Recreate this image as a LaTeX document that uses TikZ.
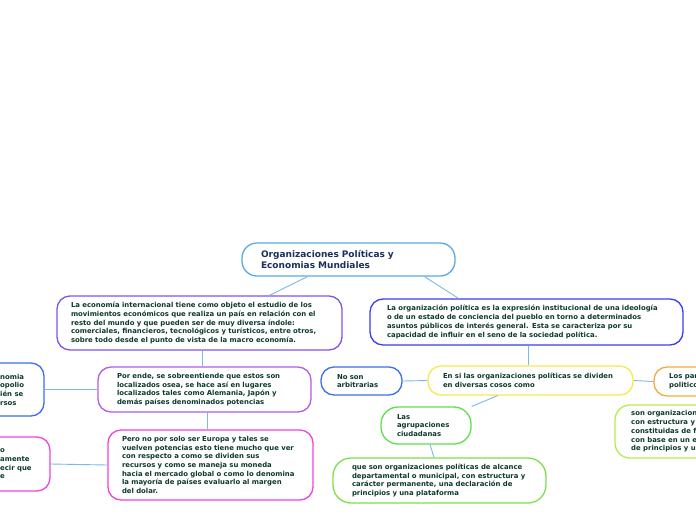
\documentclass[tikz,border=0pt]{standalone}
\usepackage{fontspec}
\setmainfont{DejaVu Sans}
\definecolor{txt}{HTML}{0D3A2A}
\definecolor{navy}{HTML}{1B2F5E}
\definecolor{conn}{HTML}{7AB8F0}
\definecolor{cRoot}{HTML}{5AA9E6}
\definecolor{cEcon}{HTML}{8052F0}
\definecolor{cOrg}{HTML}{3D3DF0}
\definecolor{cPor}{HTML}{B25CE8}
\definecolor{cMag}{HTML}{EE44DD}
\definecolor{cBlue}{HTML}{3A6FF0}
\definecolor{cYel}{HTML}{F5EA4A}
\definecolor{cOra}{HTML}{F7A93A}
\definecolor{cGrn}{HTML}{5EE04A}
\definecolor{cGrn2}{HTML}{7DE04A}
\definecolor{cYG}{HTML}{B8EC4A}
\begin{document}
\begin{tikzpicture}[x=1pt,y=-1pt,
  box/.style={draw, rounded corners=13pt, line width=1.3pt, fill=white, text=txt,
    font=\bfseries\fontsize{6.9}{8.7}\selectfont, align=left, inner ysep=0pt},
  sz/.style n args={4}{minimum width=#1pt, minimum height=#2pt, inner xsep=#3pt, text width=#4pt},
  frag/.style={text=txt, font=\bfseries\fontsize{6.9}{8.7}\selectfont, align=left, inner sep=0pt, anchor=west},
  link/.style={draw=conn, line width=0.9pt}]
\useasboundingbox (0,0) rectangle (696,520);
\fill[white] (0,0) rectangle (696,520);
\begin{scope}
\clip (0,0) rectangle (696,520);
\node[box, sz={213}{33}{19}{175}, draw=cRoot, text=navy, rounded corners=15pt,
  font=\bfseries\fontsize{9}{11.5}\selectfont] (root) at (348.5,259.5)
  {Organizaciones Políticas y\\Economias Mundiales};
\node[box, sz={285}{54}{14}{257}, draw=cEcon] (econ) at (199.5,323)
  {La economía internacional tiene como objeto el estudio de los\\movimientos económicos que realiza un país en relación con el\\resto del mundo y que pueden ser de muy diversa índole:\\comerciales, financieros, tecnológicos y turísticos, entre otros,\\sobre todo desde el punto de vista de la macro economía.};
\node[box, sz={313}{46}{17}{279}, draw=cOrg] (org) at (526.5,322)
  {La organización política es la expresión institucional de una ideología\\o de un estado de conciencia del pueblo en torno a determinados\\asuntos públicos de interés general. Esta se caracteriza por su\\capacidad de influir en el seno de la sociedad política.};
\node[box, sz={213}{45}{19}{175}, draw=cPor] (porende) at (204.5,389.5)
  {Por ende, se sobreentiende que estos son\\localizados osea, se hace así en lugares\\localizados tales como Alemania, Japón y\\demás países denominados potencias};
\node[box, sz={205}{70}{14}{177}, draw=cMag] (pero) at (210.5,465)
  {Pero no por solo ser Europa y tales se\\vuelven potencias esto tiene mucho que ver\\con respecto a como se dividen sus\\recursos y como se maneja su moneda\\hacia el mercado global o como lo denomina\\la mayoría de países evaluarlo al margen\\del dolar.};
\node[box, minimum width=84pt, minimum height=53pt, inner sep=0pt, draw=cBlue] (leftA) at (2,389.5) {};
\node[frag] (leftAtxt) at (0,389.5) {nomia\\opolio\\ién se\\rsos};
\node[box, minimum width=90pt, minimum height=54pt, inner sep=0pt, draw=cMag] (leftB) at (5,464) {};
\node[frag] (leftBtxt) at (0,464) {o\\amente\\ecir que\\e};
\node[box, sz={81}{28}{16}{49}, draw=cBlue] (noson) at (361.5,381) {No son\\arbitrarias};
\node[box, sz={205}{29}{15}{175}, draw=cYel] (ensi) at (530.5,380.5)
  {En si las organizaciones políticas se dividen\\en diversas cosos como};
\node[box, minimum width=86pt, minimum height=29pt, inner sep=0pt, draw=cOra] (lospar) at (697,381.5) {};
\node[frag] (lospartxt) at (669,381.5) {Los par\\politico};
\node[box, sz={90}{37}{16}{58}, draw=cGrn, rounded corners=17pt] (agrup) at (426,425.5)
  {Las\\agrupaciones\\ciudadanas};
\node[box, sz={213}{45}{19}{175}, draw=cGrn2, rounded corners=18pt] (queson) at (439.5,480.5)
  {que son organizaciones políticas de alcance\\departamental o municipal, con estructura y\\carácter permanente, una declaración de\\principios y una plataforma};
\node[box, minimum width=145pt, minimum height=53pt, inner sep=0pt, draw=cYG, rounded corners=15pt] (sonorg) at (687.5,431.5) {};
\node[frag] (sonorgtxt) at (631,431.5) {son organizacion\\con estructura y\\constituidas de f\\con base en un e\\de principios y u};
\draw[link] ([xshift=-41pt]root.south) -- ([xshift=70pt]econ.north);
\draw[link] ([xshift=76pt]root.south) -- ([xshift=-68pt]org.north);
\draw[link] ([xshift=3pt]econ.south) -- ([xshift=-2pt]porende.north);
\draw[link] ([xshift=2.5pt]porende.south) -- ([xshift=-3.5pt]pero.north);
\draw[link] (porende.west) -- (leftA.east);
\draw[link] (pero.west) -- (leftB.east);
\draw[link] ([xshift=2pt]org.south) -- ([xshift=-2pt]ensi.north);
\draw[link] (ensi.west) -- (noson.east);
\draw[link] (ensi.east) -- (lospar.west);
\draw[link] ([xshift=-33pt]ensi.south) -- (agrup);
\draw[link] ([xshift=4pt]agrup.south) -- ([xshift=-5.5pt]queson.north);
\end{scope}
\end{tikzpicture}
\end{document}
